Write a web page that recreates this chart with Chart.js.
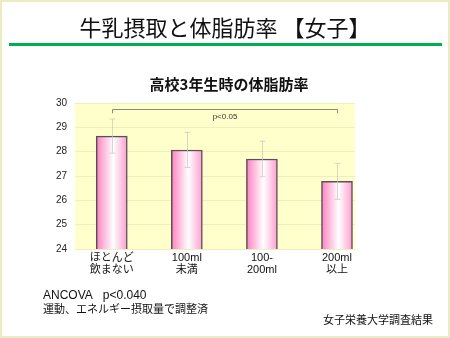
<!DOCTYPE html>
<html>
<head>
<meta charset="utf-8">
<script src="https://cdn.jsdelivr.net/npm/chart.js@4/dist/chart.umd.min.js"></script>
<style>
  body { margin: 0; background: #fff; }
  #slide { position: relative; width: 450px; height: 338px; box-sizing: border-box; border: 2px solid #ececc4; overflow: hidden; font-family: "Noto Sans CJK JP", "Liberation Sans", sans-serif; color: #111; }
  #grafico { position: absolute; left: -2px; top: -2px; }
  .txt { position: absolute; white-space: nowrap; line-height: 1; }
  #titulo { left: 0; width: 446px; text-align: center; top: 13px; font-size: 22px; }
  #linea { position: absolute; left: 7px; top: 41px; width: 433px; height: 3px; background: #00b050; }
  #subtitulo { left: 0; width: 450px; text-align: center; padding-left: 4px; box-sizing: border-box; top: 74px; font-size: 15px; font-weight: bold; }
  #nota1 { left: 41px; top: 287px; font-size: 12px; font-family: "Liberation Sans", Arial, sans-serif; }
  #nota2 { left: 41px; top: 301px; font-size: 11px; }
  #fuente { right: 15px; top: 312px; font-size: 11px; }
</style>
</head>
<body>
<div id="slide">
  <canvas id="grafico" width="450" height="338"></canvas>
  <div class="txt" id="titulo">牛乳摂取と体脂肪率 【女子】</div>
  <div id="linea"></div>
  <div class="txt" id="subtitulo">高校3年生時の体脂肪率</div>
  <div class="txt" id="nota1">ANCOVA&nbsp;&nbsp;&nbsp;p&lt;0.040</div>
  <div class="txt" id="nota2">運動、エネルギー摂取量で調整済</div>
  <div class="txt" id="fuente">女子栄養大学調査結果</div>
</div>
<script>
// datos
const categorias = [['ほとんど', '飲まない'], ['100ml', '未満'], ['100-', '200ml'], ['200ml', '以上']];
const grasaCorporal = [28.64, 28.07, 27.70, 26.78];
const desviacion = [0.70, 0.72, 0.73, 0.74];
const ticksY = [24, 25, 26, 27, 28, 29, 30];
const textoSignificancia = 'p<0.05';

// fondo amarillo del area del grafico
const fondoPlugin = {
  id: 'fondo',
  beforeDraw: function (chart) {
    const a = chart.chartArea;
    const ctx = chart.ctx;
    ctx.save();
    ctx.fillStyle = '#ffffcc';
    ctx.fillRect(a.left, a.top, a.right - a.left, a.bottom - a.top);
    ctx.restore();
  }
};

// barras de error y corchete de significancia
const erroresPlugin = {
  id: 'errores',
  afterDatasetsDraw: function (chart) {
    const ctx = chart.ctx;
    const xs = chart.scales.x;
    const ys = chart.scales.y;
    ctx.save();
    ctx.strokeStyle = 'rgba(200,200,185,0.7)';
    ctx.lineWidth = 1;
    grasaCorporal.forEach(function (v, i) {
      const x = Math.round(xs.getPixelForValue(i)) + 0.5;
      const y1 = ys.getPixelForValue(v + desviacion[i]);
      const y2 = ys.getPixelForValue(v - desviacion[i]);
      ctx.beginPath();
      ctx.moveTo(x, y1); ctx.lineTo(x, y2);
      ctx.moveTo(x - 3, y1); ctx.lineTo(x + 3, y1);
      ctx.moveTo(x - 3, y2); ctx.lineTo(x + 3, y2);
      ctx.stroke();
    });

    const x0 = Math.round(xs.getPixelForValue(0)) + 0.5;
    const x1 = Math.round(xs.getPixelForValue(grasaCorporal.length - 1)) + 0.5;
    const yb = Math.round(ys.getPixelForValue(29.74)) + 0.5;
    const ye = ys.getPixelForValue(29.58);
    ctx.strokeStyle = '#8c8c7c';
    ctx.lineWidth = 1;
    ctx.beginPath();
    ctx.moveTo(x0, ye); ctx.lineTo(x0, yb); ctx.lineTo(x1, yb); ctx.lineTo(x1, ye);
    ctx.stroke();
    ctx.fillStyle = '#333';
    ctx.font = '8px "Liberation Sans", Arial, sans-serif';
    ctx.textAlign = 'center';
    ctx.textBaseline = 'middle';
    ctx.fillText(textoSignificancia, (x0 + x1) / 2, ys.getPixelForValue(29.45));
    ctx.restore();
  }
};

function degradado(c) {
  const chart = c.chart;
  const xs = chart.scales.x;
  if (!xs || c.dataIndex === undefined) return '#ff99cc';
  const cx = xs.getPixelForValue(c.dataIndex);
  if (!isFinite(cx)) return '#ff99cc';
  const g = chart.ctx.createLinearGradient(cx - 15.5, 0, cx + 15.5, 0);
  g.addColorStop(0, '#ff80c0');
  g.addColorStop(0.55, '#ffffff');
  g.addColorStop(1, '#ff9dcf');
  return g;
}

const ctx = document.getElementById('grafico');
new Chart(ctx, {
  type: 'bar',
  data: {
    datasets: [{
      data: grasaCorporal.map(function (v, i) { return { x: i, y: v }; }),
      backgroundColor: degradado,
      borderColor: '#58505a',
      borderWidth: 1.5,
      borderSkipped: false,
      barThickness: 31
    }]
  },
  options: {
    responsive: false,
    animation: false,
    events: [],
    layout: { padding: { left: 35, right: 95, top: 103, bottom: 53 } },
    plugins: { legend: { display: false }, tooltip: { enabled: false }, title: { display: false } },
    scales: {
      x: {
        type: 'linear',
        offset: false,
        min: -0.49,
        max: 3.24,
        grid: { display: false, drawTicks: false },
        border: { display: false },
        afterBuildTicks: function (scale) {
          scale.ticks = categorias.map(function (c, i) { return { value: i }; });
        },
        afterFit: function (scale) {
          scale.height = 36;
          scale.paddingLeft = 0;
          scale.paddingRight = 0;
        },
        ticks: {
          color: '#111',
          font: { size: 11, lineHeight: 1.1, family: '"Liberation Sans", "Noto Sans CJK JP", sans-serif' },
          padding: 3,
          maxRotation: 0,
          autoSkip: false,
          callback: function (v) { return categorias[v]; }
        }
      },
      y: {
        min: 24,
        max: 30,
        grid: { color: '#efefbe', drawTicks: false },
        border: { display: false },
        afterBuildTicks: function (scale) {
          scale.ticks = ticksY.map(function (t) { return { value: t }; });
        },
        afterFit: function (scale) {
          scale.width = 40;
          scale.paddingTop = 0;
          scale.paddingBottom = 0;
        },
        ticks: {
          color: '#222',
          padding: 8,
          font: { size: 10, family: '"Liberation Sans", Arial, sans-serif' }
        }
      }
    }
  },
  plugins: [fondoPlugin, erroresPlugin]
});
</script>
</body>
</html>
